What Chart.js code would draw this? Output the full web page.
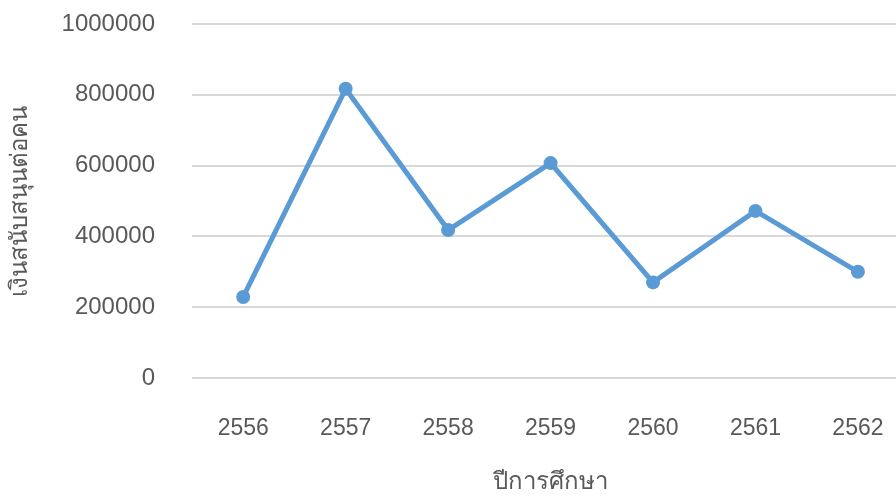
<!DOCTYPE html>
<html>
<head>
<meta charset="utf-8">
<script src="https://cdn.jsdelivr.net/npm/chart.js@4/dist/chart.umd.min.js"></script>
<style>
  html, body { margin: 0; padding: 0; background: #fff; overflow: hidden; }
  #wrap { width: 896px; height: 497px; overflow: hidden; }
  #chart-box { width: 921px; height: 497px; }
</style>
</head>
<body>
<div id="wrap"><div id="chart-box"><canvas id="chart"></canvas></div></div>
<script>
const years = ['2556', '2557', '2558', '2559', '2560', '2561', '2562'];
const fundingPerPerson = [229000, 817000, 418000, 607000, 270000, 472000, 300000];
const yTicks = [0, 200000, 400000, 600000, 800000, 1000000];

const textColor = '#595959';
const fontFamily = '"Liberation Sans", Arial, sans-serif';

const ctx = document.getElementById('chart').getContext('2d');
new Chart(ctx, {
    type: 'line',
    data: {
        labels: years,
        datasets: [{
            label: 'เงินสนับสนุนต่อคน',
            data: fundingPerPerson,
            borderColor: '#5B9BD5',
            backgroundColor: '#5B9BD5',
            borderWidth: 5,
            pointRadius: 7,
            pointHoverRadius: 7,
            pointBorderWidth: 0,
            tension: 0
        }]
    },
    options: {
        responsive: true,
        maintainAspectRatio: false,
        animation: false,
        layout: { padding: { top: 24, right: 0, left: 0, bottom: 0 } },
        plugins: {
            legend: { display: false },
            tooltip: { enabled: false }
        },
        scales: {
            x: {
                offset: true,
                grid: { display: false, drawTicks: false, offset: true },
                border: { display: false },
                ticks: {
                    color: textColor,
                    font: { family: fontFamily, size: 23 },
                    padding: 37,
                    maxRotation: 0
                },
                title: {
                    display: true,
                    text: 'ปีการศึกษา',
                    color: textColor,
                    font: { family: fontFamily, size: 24 },
                    padding: { top: 18, bottom: 0 }
                },
                afterFit: (scale) => { scale.height = 119; }
            },
            y: {
                min: 0,
                max: 1000000,
                afterBuildTicks: (scale) => { scale.ticks = yTicks.map(v => ({ value: v })); },
                grid: { color: '#D9D9D9', lineWidth: 2, drawTicks: false },
                border: { display: false },
                ticks: {
                    color: textColor,
                    font: { family: fontFamily, size: 24 },
                    padding: 37,
                    callback: (v) => String(v)
                },
                title: {
                    display: true,
                    text: 'เงินสนับสนุนต่อคน',
                    color: textColor,
                    font: { family: fontFamily, size: 24 },
                    padding: { top: 6, bottom: 0 }
                },
                afterFit: (scale) => {
                    scale.width = 192;
                    scale.paddingTop = 0;
                    scale.paddingBottom = 0;
                }
            }
        }
    }
});
</script>
</body>
</html>
